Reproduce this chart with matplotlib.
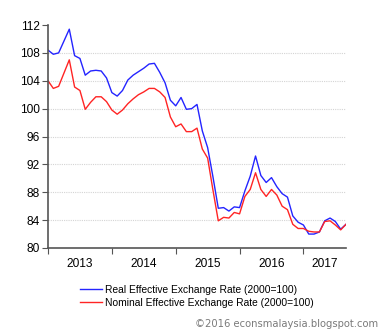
import numpy as np
import matplotlib
matplotlib.use("Agg")
from matplotlib import pyplot as plt

plt.rcParams['font.family'] = ['Liberation Sans', 'DejaVu Sans']

# monthly index, Jan 2013 - Sep 2017 (2000=100)
months = np.arange(57)
reer = [108.4, 107.8, 108.0, 109.7, 111.4, 107.6, 107.2, 104.8, 105.4, 105.5,
        105.4, 104.4, 102.3, 101.8, 102.6, 104.1, 104.8, 105.3, 105.8, 106.4,
        106.5, 105.2, 103.7, 101.2, 100.4, 101.6, 99.9, 100.0, 100.6, 96.8,
        94.4, 90.2, 85.7, 85.8, 85.3, 85.9, 85.8, 88.2, 90.3, 93.2,
        90.4, 89.4, 90.1, 88.8, 87.8, 87.3, 84.6, 83.7, 83.3, 82.0,
        82.0, 82.3, 83.9, 84.3, 83.8, 82.7, 83.4]
neer = [104.0, 102.9, 103.2, 105.1, 107.0, 103.1, 102.6, 99.9, 100.9, 101.7,
        101.7, 101.0, 99.8, 99.2, 99.8, 100.7, 101.4, 102.0, 102.4, 102.9,
        102.9, 102.4, 101.6, 98.8, 97.4, 97.8, 96.7, 96.7, 97.2, 94.2,
        92.9, 88.3, 83.9, 84.4, 84.3, 85.1, 84.9, 87.4, 88.4, 90.8,
        88.4, 87.4, 88.4, 87.6, 86.0, 85.5, 83.4, 82.8, 82.8, 82.4,
        82.3, 82.3, 83.8, 83.9, 83.3, 82.6, 83.4]
years = ['2013', '2014', '2015', '2016', '2017']
year_starts = [0, 12, 24, 36, 48]
year_mids = [6, 18, 30, 42, 52]
yticks = [80, 84, 88, 92, 96, 100, 104, 108, 112]

fig = plt.figure(figsize=(3.8, 3.32), dpi=100)
ax = fig.add_axes([48/380, 1-248/332, 298/380, 223/332])

ax.plot(months, reer, color='#2424ff', lw=1.0, label='Real Effective Exchange Rate (2000=100)')
ax.plot(months, neer, color='#ff2424', lw=1.0, label='Nominal Effective Exchange Rate (2000=100)')

ax.set_xlim(0, 56)
ax.set_ylim(80, 112)
ax.set_yticks(yticks)
ax.set_xticks(year_starts)
ax.set_xticklabels([])
ax.set_xticks(year_mids, minor=True)
ax.set_xticklabels(years, minor=True)

# dotted horizontal guides, none on the top edge
for y in yticks[1:-1]:
    ax.axhline(y, color='#d4d4d4', lw=0.8, ls=(0, (1, 1)), zorder=0)

for s in ['top', 'right']:
    ax.spines[s].set_visible(False)
for s in ['left', 'bottom']:
    ax.spines[s].set_color('#555555')
    ax.spines[s].set_linewidth(1.2)

ax.tick_params(axis='y', which='major', length=4, width=0.8, color='#555555',
               labelsize=8.6, pad=2, labelcolor='#000000')
ax.tick_params(axis='x', which='major', length=4, width=0.8, color='#555555')
ax.tick_params(axis='x', which='minor', length=0, labelsize=8.6, pad=7)

fig.legend(loc='upper left', bbox_to_anchor=(80/380, 1-285/332), frameon=False,
           fontsize=7.4, handlelength=2.1, handletextpad=0.3, borderpad=0,
           labelspacing=0.25, borderaxespad=0)

fig.text(378/380, 1-324/332, '\u00a92016 econsmalaysia.blogspot.com', ha='right',
         va='center', fontsize=7.2, color='#7a7a7a', family='DejaVu Sans')

fig.savefig('out.png', dpi=100, facecolor='#ffffff')
